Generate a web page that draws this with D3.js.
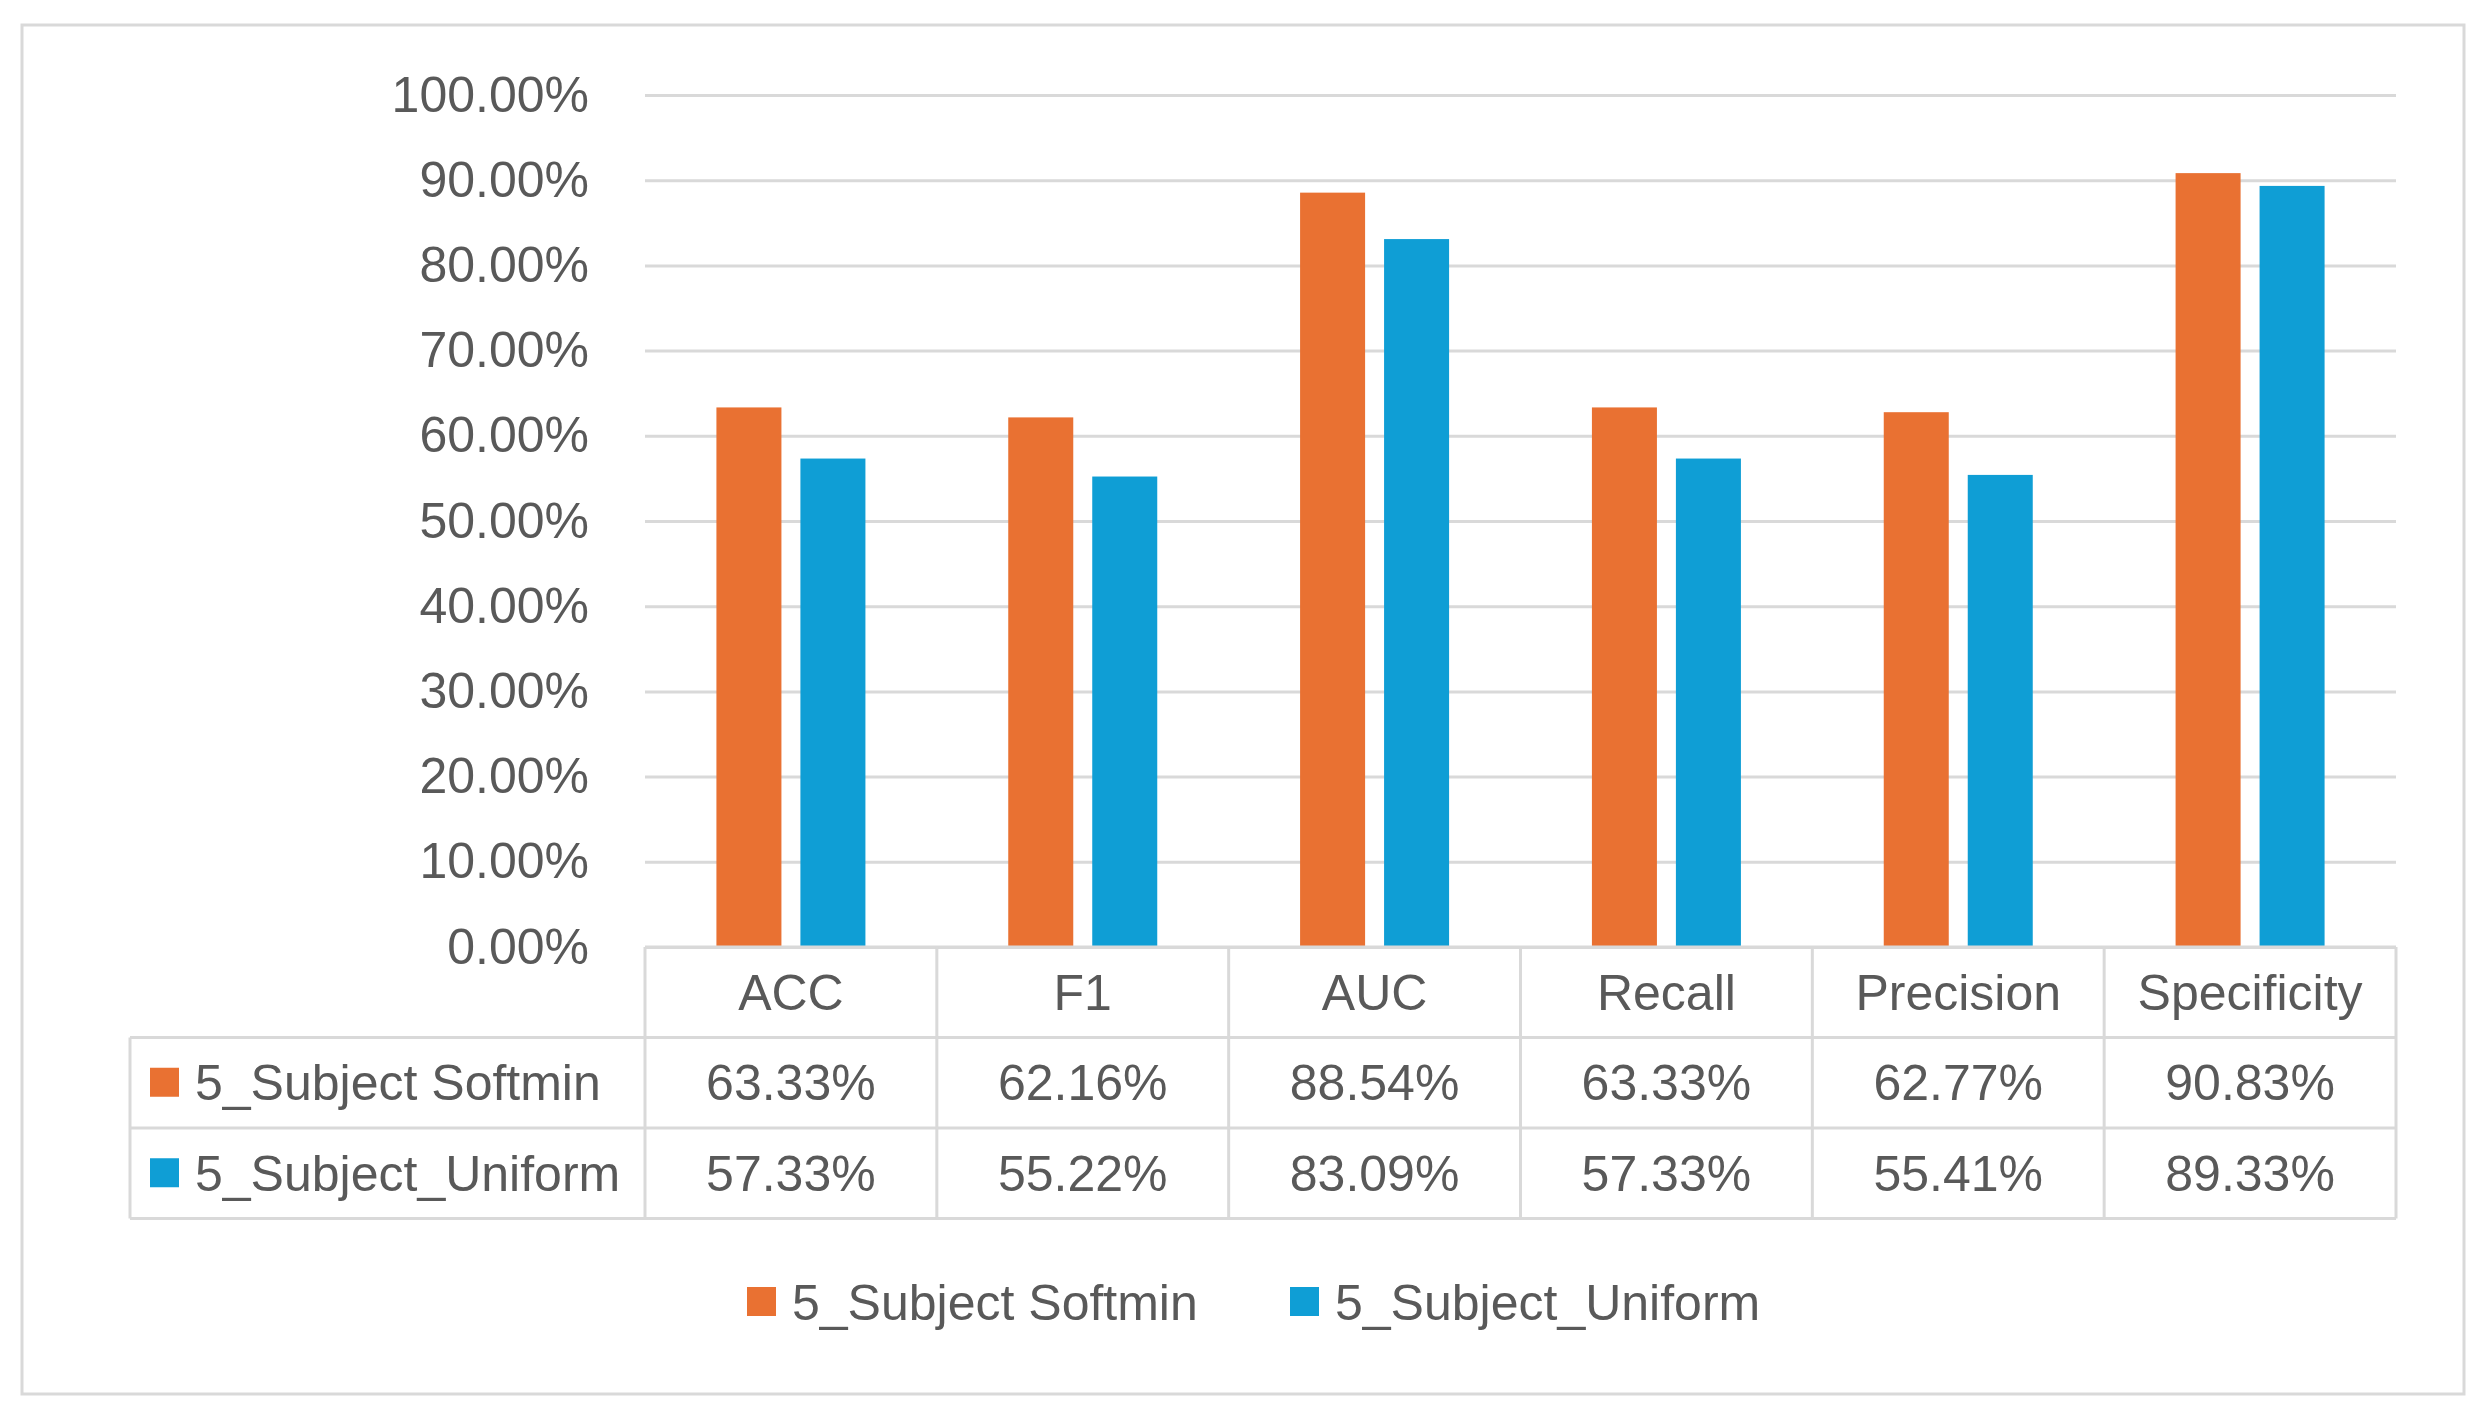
<!DOCTYPE html>
<html>
<head>
<meta charset="utf-8">
<script src="https://cdn.jsdelivr.net/npm/d3@7"></script>
<style>
  body { margin: 0; background: #fff; }
  text { font-family: "Liberation Sans", Arial, sans-serif; fill: #595959; }
</style>
</head>
<body>
<div id="chart"></div>
<script>
// data
var categories = ["ACC", "F1", "AUC", "Recall", "Precision", "Specificity"];
var seriesNames = ["5_Subject Softmin", "5_Subject_Uniform"];
var softminValues = [63.33, 62.16, 88.54, 63.33, 62.77, 90.83];
var uniformValues = [57.33, 55.22, 83.09, 57.33, 55.41, 89.33];
var yTicks = [0, 10, 20, 30, 40, 50, 60, 70, 80, 90, 100];
var colors = ["#E97132", "#0F9ED5"];

var svgWidth = 2483;
var svgHeight = 1419;
var fontSize = 50;
var gridColor = "#d9d9d9";

var svg = d3.select("#chart")
    .append("svg")
    .attr("width", svgWidth)
    .attr("height", svgHeight);

svg.append("rect")
    .attr("width", svgWidth).attr("height", svgHeight)
    .attr("fill", "#fff");

// outer frame
svg.append("rect")
    .attr("x", 22).attr("y", 25)
    .attr("width", 2442).attr("height", 1369)
    .attr("fill", "none")
    .attr("stroke", gridColor)
    .attr("stroke-width", 3);

// scales
var plotLeft = 645, plotRight = 2396;
var yScale = d3.scaleLinear().domain([0, 100]).range([947, 95]);
var xScale = d3.scaleBand().domain(categories).range([plotLeft, plotRight]).padding(0);

var groupW = 149;
var xSub = d3.scaleBand()
    .domain(seriesNames)
    .range([(xScale.bandwidth() - groupW) / 2, (xScale.bandwidth() + groupW) / 2])
    .paddingInner(0.226);

// y axis + gridlines
var yAxis = d3.axisLeft(yScale)
    .tickValues(yTicks)
    .tickSize(-(plotRight - plotLeft))
    .tickPadding(56)
    .tickFormat(d => d.toFixed(2) + "%");

var yG = svg.append("g")
    .attr("transform", `translate(${plotLeft}, 0)`)
    .call(yAxis);
yG.select(".domain").remove();
yG.selectAll(".tick line")
    .attr("stroke", gridColor)
    .attr("stroke-width", 3);
yG.selectAll(".tick text")
    .attr("font-size", fontSize)
    .attr("font-family", "Liberation Sans, Arial, sans-serif")
    .attr("fill", "#595959");

// bars
var seriesData = [softminValues, uniformValues];
seriesData.forEach(function(vals, si) {
    svg.append("g")
        .selectAll("rect")
        .data(vals)
        .enter()
        .append("rect")
        .attr("x", (d, i) => xScale(categories[i]) + xSub(seriesNames[si]))
        .attr("y", d => yScale(d))
        .attr("width", xSub.bandwidth())
        .attr("height", d => yScale(0) - yScale(d))
        .attr("fill", colors[si]);
});

// data table
var tableTop = yScale(0);
var rowH = 90.5;
var tableLeft = 130;
var rowBottoms = [tableTop + rowH, tableTop + 2 * rowH, tableTop + 3 * rowH];
var tableG = svg.append("g");

tableG.append("line")
    .attr("x1", plotLeft).attr("x2", plotRight)
    .attr("y1", tableTop).attr("y2", tableTop)
    .attr("stroke", gridColor).attr("stroke-width", 3);

rowBottoms.forEach(function(yy) {
    tableG.append("line")
        .attr("x1", tableLeft).attr("x2", plotRight)
        .attr("y1", yy).attr("y2", yy)
        .attr("stroke", gridColor).attr("stroke-width", 3);
});

tableG.append("line")
    .attr("x1", tableLeft).attr("x2", tableLeft)
    .attr("y1", rowBottoms[0]).attr("y2", rowBottoms[2])
    .attr("stroke", gridColor).attr("stroke-width", 3);

categories.concat(["end"]).forEach(function(c, i) {
    var xx = i < categories.length ? xScale(c) : plotRight;
    tableG.append("line")
        .attr("x1", xx).attr("x2", xx)
        .attr("y1", tableTop).attr("y2", rowBottoms[2])
        .attr("stroke", gridColor).attr("stroke-width", 3);
});

// header labels
tableG.selectAll("text.cat")
    .data(categories)
    .enter()
    .append("text")
    .attr("class", "cat")
    .attr("x", d => xScale(d) + xScale.bandwidth() / 2)
    .attr("y", tableTop + rowH / 2)
    .attr("dy", "0.35em")
    .attr("text-anchor", "middle")
    .attr("font-size", fontSize)
    .text(d => d);

// value rows
seriesData.forEach(function(vals, si) {
    var rowMid = tableTop + rowH * (si + 1) + rowH / 2;
    tableG.append("rect")
        .attr("x", 150).attr("y", rowMid - 15)
        .attr("width", 29).attr("height", 29)
        .attr("fill", colors[si]);
    tableG.append("text")
        .attr("x", 195).attr("y", rowMid)
        .attr("dy", "0.35em")
        .attr("font-size", fontSize)
        .text(seriesNames[si]);
    tableG.selectAll("text.v" + si)
        .data(vals)
        .enter()
        .append("text")
        .attr("class", "v" + si)
        .attr("x", (d, i) => xScale(categories[i]) + xScale.bandwidth() / 2)
        .attr("y", rowMid)
        .attr("dy", "0.35em")
        .attr("text-anchor", "middle")
        .attr("font-size", fontSize)
        .text(d => d.toFixed(2) + "%");
});

// legend
var legendY = 1302;
var legendX = [747, 1290];
seriesNames.forEach(function(name, i) {
    svg.append("rect")
        .attr("x", legendX[i]).attr("y", legendY - 15)
        .attr("width", 29).attr("height", 29)
        .attr("fill", colors[i]);
    svg.append("text")
        .attr("x", legendX[i] + 45).attr("y", legendY)
        .attr("dy", "0.35em")
        .attr("font-size", fontSize)
        .text(name);
});
</script>
</body>
</html>
